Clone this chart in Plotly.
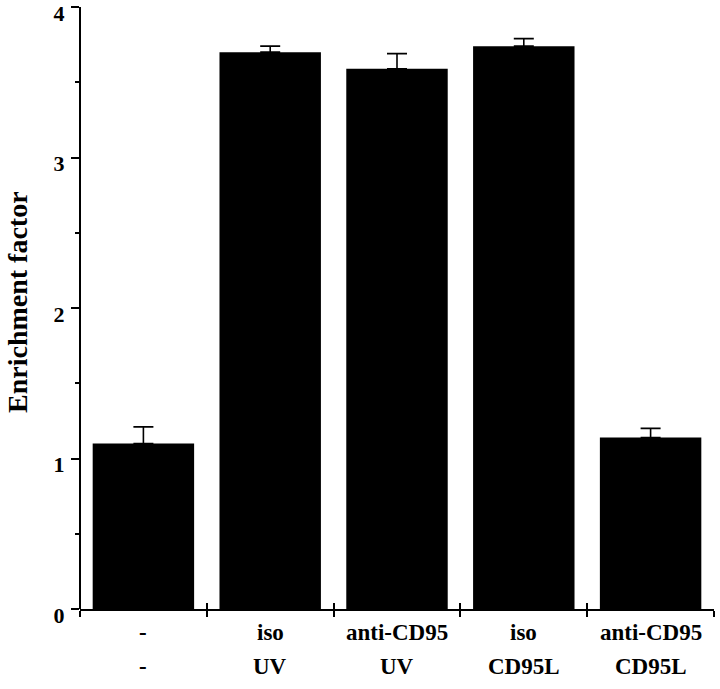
import plotly.graph_objects as go

treatment = ["-", "iso", "anti-CD95", "iso", "anti-CD95"]
stimulus = ["-", "UV", "UV", "CD95L", "CD95L"]
enrichment = [1.10, 3.70, 3.59, 3.74, 1.14]
error_plus = [0.11, 0.04, 0.10, 0.05, 0.06]
y_ticks = [0, 1, 2, 3, 4]

positions = list(range(len(treatment)))
boundaries = [p - 0.5 for p in positions] + [positions[-1] + 0.5]

FONT = "Liberation Serif"
W, H = 720, 689
ML, MR, MT, MB = 80, 6, 4, 80
PW, PH = W - ML - MR, H - MT - MB
Y_TOP = 4.02


def px_to_paper_x(px):
    return (px - ML) / PW


def px_to_paper_y(py):
    return (H - MB - py) / PH


fig = go.Figure()
fig.add_trace(go.Bar(
    x=positions, y=enrichment, width=0.8,
    marker=dict(color="black", line=dict(width=0)),
    error_y=dict(type="data", symmetric=False, array=error_plus,
                 arrayminus=[0] * len(error_plus),
                 color="black", thickness=1.6, width=10),
    showlegend=False,
))

fig.update_layout(
    width=W, height=H,
    margin=dict(l=ML, r=MR, t=MT, b=MB),
    paper_bgcolor="white", plot_bgcolor="white",
    font=dict(family=FONT, color="black"),
    xaxis=dict(
        range=[-0.5, 4.5], tickvals=boundaries, ticktext=[""] * len(boundaries),
        ticks="outside", ticklen=6, tickwidth=2, tickcolor="black",
        showline=True, linewidth=2, linecolor="black",
        showgrid=False, zeroline=False,
    ),
    xaxis2=dict(
        overlaying="x", side="bottom", anchor="y",
        range=[-0.5, 4.5], tickvals=boundaries, ticktext=[""] * len(boundaries),
        ticks="inside", ticklen=6, tickwidth=2, tickcolor="black",
        showline=False, showgrid=False, zeroline=False,
    ),
    yaxis=dict(
        range=[0, Y_TOP], tickmode="array", tickvals=y_ticks,
        ticktext=[str(v) for v in y_ticks],
        ticks="outside", ticklen=8, tickwidth=2, tickcolor="black",
        ticklabelstandoff=2, ticklabelshift=6, ticklabeloverflow="allow",
        automargin=False,
        minor=dict(tickvals=[0.5, 1.5, 2.5, 3.5], ticks="outside", ticklen=4,
                   tickwidth=2, tickcolor="black"),
        tickfont=dict(family=FONT, size=22, weight="bold", color="black"),
        showline=False, showgrid=False, zeroline=False,
    ),
)

# y axis line drawn from 0 to the top tick (as in the figure)
fig.add_shape(type="line", xref="paper", yref="y", x0=0, x1=0, y0=0, y1=y_ticks[-1],
              line=dict(color="black", width=2))

fig.add_trace(go.Scatter(x=[positions[0]], y=[0], xaxis="x2", mode="markers",
                         marker=dict(opacity=0), showlegend=False, hoverinfo="skip"))

for p, t, s in zip(positions, treatment, stimulus):
    fig.add_annotation(x=p, xref="x", y=px_to_paper_y(632), yref="paper", text=t,
                       showarrow=False, yanchor="middle",
                       font=dict(family=FONT, size=23, weight="bold", color="black"))
    fig.add_annotation(x=p, xref="x", y=px_to_paper_y(666), yref="paper", text=s,
                       showarrow=False, yanchor="middle",
                       font=dict(family=FONT, size=23, weight="bold", color="black"))

fig.add_annotation(x=px_to_paper_x(17), xref="paper", xanchor="center",
                   y=px_to_paper_y(302), yref="paper", yanchor="middle",
                   text="Enrichment factor", showarrow=False, textangle=-90,
                   font=dict(family=FONT, size=28, weight="bold", color="black"))

fig.write_html("out.html", config={"displayModeBar": False},
               post_script="document.body.style.margin='0';document.body.style.overflow='hidden';")
